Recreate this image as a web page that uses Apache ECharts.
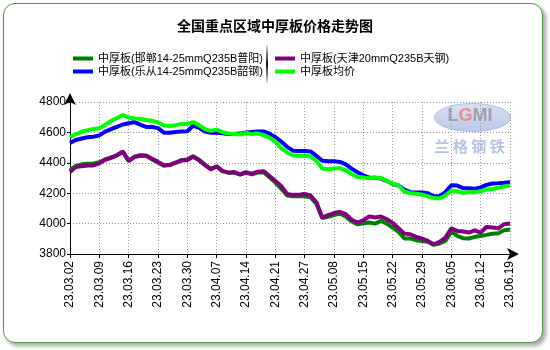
<!DOCTYPE html>
<html>
<head>
<meta charset="utf-8">
<script src="https://cdn.jsdelivr.net/npm/echarts@6/dist/echarts.min.js"></script>
<style>
  html, body { margin: 0; padding: 0; background: #fff; }
  #wrap { position: relative; width: 550px; height: 350px; }
  #frame {
    position: absolute; left: 3px; top: 3px; width: 538px; height: 338px;
    border: 1.5px solid #4e9a3e; border-radius: 12px; background: #fff;
    box-shadow: 3px 3px 4px rgba(0,0,0,0.35);
  }
  #chart { position: absolute; left: 0; top: 0; width: 550px; height: 350px; }
</style>
</head>
<body>
<div id="wrap">
  <div id="frame"></div>
  <div id="chart"></div>
</div>
<script>
// Trading dates (yy.mm.dd)
const dates = [
  '23.03.02','23.03.03','23.03.06','23.03.07','23.03.08','23.03.09','23.03.10','23.03.13','23.03.14','23.03.15',
  '23.03.16','23.03.17','23.03.20','23.03.21','23.03.22','23.03.23','23.03.24','23.03.27','23.03.28','23.03.29',
  '23.03.30','23.03.31','23.04.03','23.04.04','23.04.06','23.04.07','23.04.10','23.04.11','23.04.12','23.04.13',
  '23.04.14','23.04.17','23.04.18','23.04.19','23.04.20','23.04.21','23.04.23','23.04.24','23.04.25','23.04.26',
  '23.04.27','23.04.28','23.05.04','23.05.05','23.05.06','23.05.08','23.05.09','23.05.10','23.05.11','23.05.12',
  '23.05.15','23.05.16','23.05.17','23.05.18','23.05.19','23.05.22','23.05.23','23.05.24','23.05.25','23.05.26',
  '23.05.29','23.05.30','23.05.31','23.06.01','23.06.02','23.06.05','23.06.06','23.06.07','23.06.08','23.06.09',
  '23.06.12','23.06.13','23.06.14','23.06.15','23.06.16','23.06.19'
];

// 中厚板(邯郸14-25mmQ235B普阳)
const handan = [
  4352,4380,4390,4393,4396,4404,4422,4436,4450,4472,
  4415,4440,4450,4446,4422,4402,4380,4385,4402,4418,
  4422,4444,4420,4388,4360,4375,4345,4335,4336,4322,
  4334,4324,4336,4338,4305,4270,4230,4185,4180,4180,
  4180,4173,4130,4036,4045,4056,4067,4047,4014,3996,
  4002,4007,4000,4018,4000,3974,3945,3902,3902,3891,
  3886,3880,3860,3869,3886,3948,3919,3904,3902,3913,
  3919,3926,3934,3937,3956,3961
];

// 中厚板(天津20mmQ235B天钢)
const tianjin = [
  4340,4372,4378,4382,4383,4396,4420,4433,4448,4475,
  4412,4438,4448,4446,4426,4406,4385,4386,4400,4415,
  4418,4440,4416,4385,4356,4378,4345,4335,4339,4324,
  4339,4328,4341,4345,4313,4280,4247,4195,4189,4189,
  4196,4185,4140,4040,4056,4069,4078,4062,4025,4007,
  4022,4047,4040,4047,4029,4005,3970,3934,3930,3913,
  3902,3886,3864,3880,3908,3969,3952,3948,3941,3956,
  3941,3978,3974,3969,3996,4000
];

// 中厚板(乐从14-25mmQ235B韶钢)
const lecong = [
  4530,4550,4560,4568,4572,4580,4605,4622,4637,4652,
  4660,4668,4650,4636,4635,4628,4598,4598,4602,4606,
  4608,4645,4630,4605,4598,4598,4595,4590,4590,4592,
  4600,4602,4606,4606,4592,4570,4540,4505,4480,4478,
  4478,4475,4446,4413,4410,4410,4406,4390,4362,4338,
  4318,4303,4302,4296,4280,4260,4250,4224,4207,4205,
  4205,4200,4180,4180,4207,4252,4250,4233,4232,4230,
  4238,4255,4264,4265,4268,4272
];

// 中厚板均价
const average = [
  4570,4588,4604,4615,4622,4628,4650,4675,4695,4714,
  4698,4692,4690,4682,4676,4665,4646,4642,4648,4656,
  4656,4668,4648,4622,4610,4618,4602,4592,4590,4586,
  4596,4590,4594,4582,4565,4540,4496,4468,4450,4446,
  4446,4442,4413,4362,4358,4362,4365,4351,4325,4307,
  4303,4299,4303,4300,4281,4263,4252,4211,4200,4196,
  4191,4180,4167,4167,4185,4217,4213,4202,4207,4207,
  4213,4224,4228,4235,4244,4250
];

const yTicks = { min: 3800, max: 4800, step: 200 };

const names = [
  '中厚板(邯郸14-25mmQ235B普阳)',
  '中厚板(天津20mmQ235B天钢)',
  '中厚板(乐从14-25mmQ235B韶钢)',
  '中厚板均价'
];
const colors = ['#008000', '#800080', '#0000ff', '#00ff00'];
const values = [handan, tianjin, lecong, average];

const FONT = "'Liberation Sans', Arial, 'Noto Sans CJK SC', sans-serif";

const chart = echarts.init(document.getElementById('chart'), null, { renderer: 'canvas' });

const legendCommon = {
  orient: 'vertical',
  top: 48,
  itemWidth: 20,
  itemHeight: 4,
  itemGap: 2,
  icon: 'rect',
  selectedMode: false,
  textStyle: { fontSize: 11, fontFamily: FONT, color: '#000' }
};

chart.setOption({
  animation: false,
  backgroundColor: 'transparent',
  title: {
    text: '全国重点区域中厚板价格走势图',
    left: 'center',
    top: 15,
    textStyle: { fontSize: 14, fontWeight: 'bold', fontFamily: FONT, color: '#000' }
  },
  legend: [
    Object.assign({}, legendCommon, { left: 68, data: [names[0], names[2]] }),
    Object.assign({}, legendCommon, { left: 270, data: [names[1], names[3]] })
  ],
  grid: { left: 70, right: 40, top: 102, bottom: 96, containLabel: false },
  xAxis: {
    type: 'category',
    data: dates,
    boundaryGap: false,
    axisLine: {
      lineStyle: { color: '#000', width: 1 },
      symbol: ['none', 'arrow'],
      symbolSize: [9, 12],
      symbolOffset: [0, 9]
    },
    axisTick: { show: true, interval: 4, length: 4, lineStyle: { color: '#000' } },
    axisLabel: {
      interval: 4, rotate: 90, margin: 7,
      fontSize: 12, fontFamily: FONT, color: '#000'
    },
    splitLine: { show: true, interval: 4, lineStyle: { color: '#999', type: [1, 2], width: 1 } }
  },
  yAxis: {
    type: 'value',
    min: yTicks.min, max: yTicks.max, interval: yTicks.step,
    axisLine: {
      show: true,
      lineStyle: { color: '#000', width: 1 },
      symbol: ['none', 'arrow'],
      symbolSize: [9, 12],
      symbolOffset: [0, 9]
    },
    axisTick: { show: true, length: 3, lineStyle: { color: '#000' } },
    axisLabel: {
      margin: 4, fontSize: 12, fontFamily: FONT, color: '#000',
      formatter: v => String(v)
    },
    splitLine: { show: true, lineStyle: { color: '#999', type: [1, 2], width: 1 } }
  },
  graphic: [
    // divider between the two legend columns
    {
      type: 'rect', left: 266, top: 45, z: 10,
      shape: { width: 2, height: 38 },
      style: {
        fill: new echarts.graphic.LinearGradient(0, 0, 0, 1, [
          { offset: 0, color: '#ddd' },
          { offset: 0.5, color: '#111' },
          { offset: 1, color: '#ddd' }
        ])
      }
    },
    // LGMI watermark
    {
      type: 'group', left: 434, top: 103, z: 0, silent: true,
      children: [
        {
          type: 'ellipse',
          shape: { cx: 38, cy: 14, rx: 38, ry: 14 },
          style: {
            fill: new echarts.graphic.LinearGradient(0, 0, 0, 1, [
              { offset: 0, color: 'rgba(190,205,235,0.6)' },
              { offset: 1, color: 'rgba(140,165,215,0.6)' }
            ]),
            stroke: 'rgba(150,175,220,0.7)', lineWidth: 1
          }
        },
        {
          type: 'text', left: 13, top: 4,
          style: {
            rich: {
              g: { fill: '#a0a0a8', fontSize: 18, fontWeight: 'bold', fontFamily: FONT },
              r: { fill: '#f08c8c', fontSize: 18, fontWeight: 'bold', fontFamily: FONT }
            },
            text: '{g|L}{r|G}{g|MI}'
          }
        },
        {
          type: 'text', left: 0, top: 35,
          style: {
            text: '兰 格 钢 铁',
            fill: 'rgba(130,155,210,0.6)',
            fontSize: 15, fontWeight: 'bold',
            fontFamily: "'Noto Sans CJK SC', sans-serif"
          }
        }
      ]
    }
  ],
  series: values.map((v, k) => ({
    name: names[k],
    type: 'line',
    data: v,
    showSymbol: false,
    symbol: 'none',
    color: colors[k],
    lineStyle: { color: colors[k], width: 4 },
    itemStyle: { color: colors[k] },
    z: 2 + k
  }))
});
</script>
</body>
</html>
